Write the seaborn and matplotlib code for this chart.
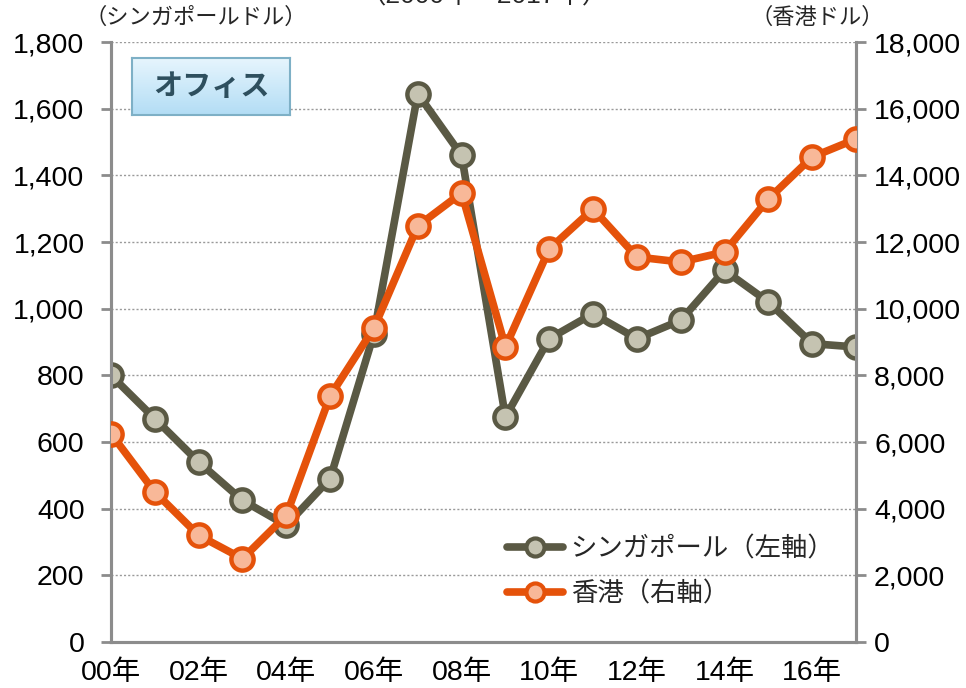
import numpy as np
import pandas as pd
import matplotlib
matplotlib.use("Agg")
import matplotlib.pyplot as plt
from matplotlib.colors import LinearSegmentedColormap
from matplotlib.lines import Line2D
import seaborn as sns

# ==================== データ ====================
years = list(range(0, 18))
singapore = [800, 670, 540, 425, 350, 490, 925, 1645, 1460, 675,
             910, 985, 910, 965, 1115, 1020, 895, 885]
hongkong = [6250, 4500, 3200, 2500, 3800, 7380, 9420, 12480, 13470, 8850,
            11790, 12990, 11550, 11400, 11700, 13290, 14550, 15090]
year_ticks = [0, 2, 4, 6, 8, 10, 12, 14, 16]
year_labels = ["00年", "02年", "04年", "06年", "08年", "10年", "12年", "14年", "16年"]
left_ticks = list(range(0, 1801, 200))
right_ticks = list(range(0, 18001, 2000))

df = pd.DataFrame({"year": years, "sg": singapore, "hk": hongkong})

sns.set_style("white")
plt.rcParams['font.family'] = ['Liberation Sans', 'Noto Sans CJK JP', 'DejaVu Sans']

SG_LINE = "#5a5944"
SG_FACE = "#c5c3b1"
HK_LINE = "#e5520a"
HK_FACE = "#f8b898"
AX_GRAY = "#8c8c8c"

fig = plt.figure(figsize=(9.66, 6.88), dpi=100)
ax = fig.add_axes([111 / 966, 1 - 642 / 688, (856 - 111) / 966, 600 / 688])
ax2 = ax.twinx()

sns.lineplot(data=df, x="year", y="sg", ax=ax, color=SG_LINE, lw=5.5,
             marker="o", markersize=16, markerfacecolor=SG_FACE,
             markeredgecolor=SG_LINE, markeredgewidth=3.2, zorder=3)
sns.lineplot(data=df, x="year", y="hk", ax=ax2, color=HK_LINE, lw=5.5,
             marker="o", markersize=16, markerfacecolor=HK_FACE,
             markeredgecolor=HK_LINE, markeredgewidth=3.2, zorder=3)

ax.set_xlim(0, 17)
ax.set_ylim(0, 1800)
ax2.set_ylim(0, 18000)
ax.set_xticks(year_ticks)
ax.set_xticklabels(year_labels)
ax.set_yticks(left_ticks)
ax.set_yticklabels([f"{v:,}" for v in left_ticks])
ax2.set_yticks(right_ticks)
ax2.set_yticklabels([f"{v:,}" for v in right_ticks])
ax.set_xlabel("")
ax.set_ylabel("")
ax2.set_ylabel("")

ax.yaxis.grid(True, color="#9a9a9a", linestyle=(0, (1.5, 1.5)), lw=1.0)
ax.set_axisbelow(True)

for a in (ax, ax2):
    a.spines["top"].set_visible(False)
    for s in ("left", "right", "bottom"):
        a.spines[s].set_color(AX_GRAY)
        a.spines[s].set_linewidth(2.2)
    a.tick_params(axis="both", colors=AX_GRAY, width=2, length=7, direction="out",
                  labelsize=20.5, labelcolor="black")
ax.tick_params(axis="y", pad=12)
ax2.tick_params(axis="y", pad=6)
ax.tick_params(axis="x", pad=6)

# 単位
fig.text(84 / 966, 1 - 18 / 688, "（シンガポールドル）", fontsize=16, va="center", ha="left")
fig.text(884 / 966, 1 - 18 / 688, "（香港ドル）", fontsize=16, va="center", ha="right")
# 切れたタイトル
fig.text(484 / 966, 1.006, "（2000年～2017年）", fontsize=19, va="center", ha="center")

# オフィス ラベル（グラデーション）
bx = fig.add_axes([132 / 966, 1 - 115 / 688, 158 / 966, 57 / 688])
cmap = LinearSegmentedColormap.from_list("office", ["#b3ddf5", "#e6f5fd"])
bx.imshow(np.linspace(0, 1, 64).reshape(-1, 1), cmap=cmap, aspect="auto",
          origin="lower", extent=[0, 1, 0, 1])
bx.set_xticks([])
bx.set_yticks([])
for s in bx.spines.values():
    s.set_color("#7eb0c6")
    s.set_linewidth(1.5)
bx.text(0.5, 0.5, "オフィス", fontsize=21, fontweight="bold", color="#2e4f5e",
        ha="center", va="center", transform=bx.transAxes)

# 凡例
handles = [
    Line2D([], [], color=SG_LINE, lw=5.5, marker="o", markersize=13,
           markerfacecolor=SG_FACE, markeredgecolor=SG_LINE, markeredgewidth=3),
    Line2D([], [], color=HK_LINE, lw=5.5, marker="o", markersize=13,
           markerfacecolor=HK_FACE, markeredgecolor=HK_LINE, markeredgewidth=3),
]
ax2.legend(handles, ["シンガポール（左軸）", "香港（右軸）"], loc="lower left",
           bbox_to_anchor=(0.5, 0.02), frameon=False, fontsize=19,
           handlelength=2.1, handletextpad=0.3, labelspacing=0.75)

fig.savefig("out.png", dpi=100)
